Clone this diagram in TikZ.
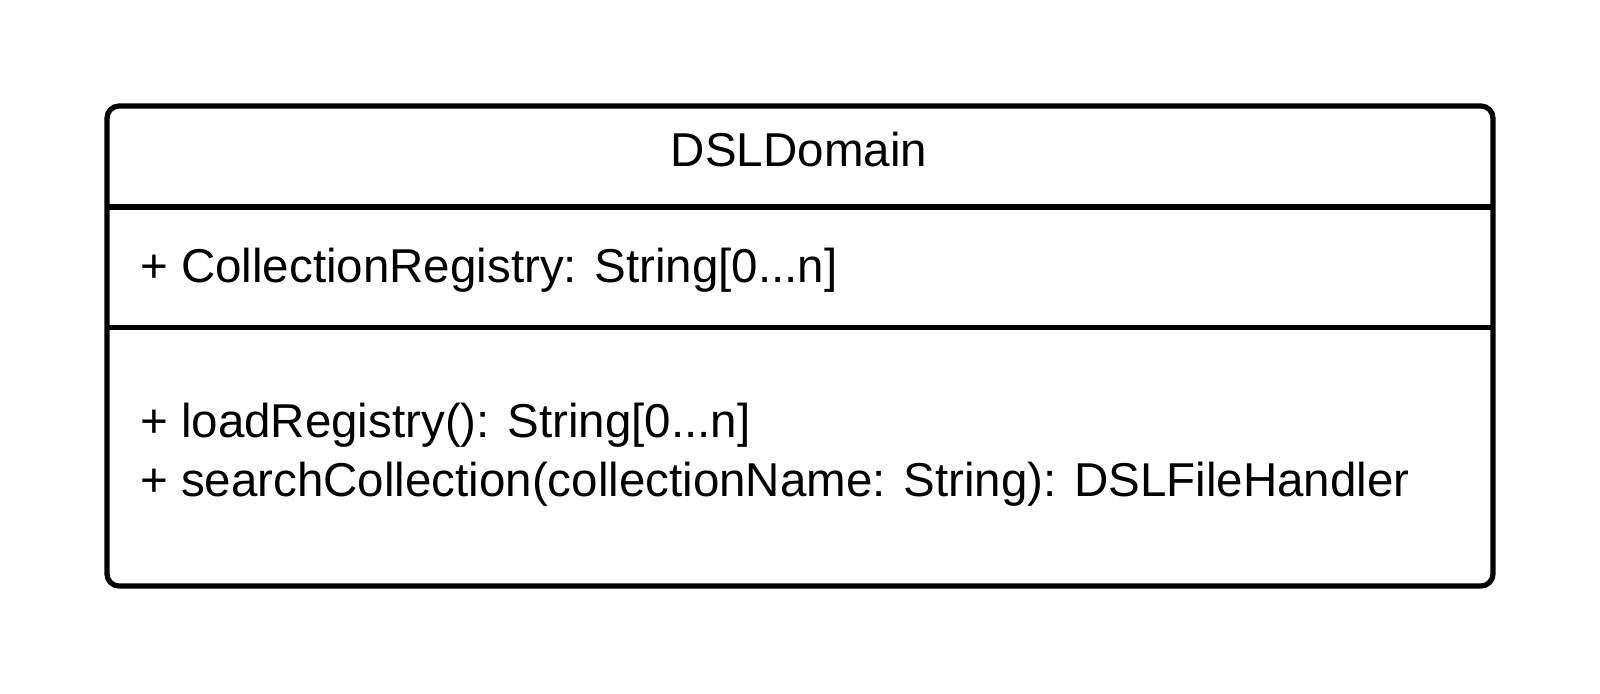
\documentclass[tikz,border=0pt]{standalone}
\usepackage{fontspec}
\setmainfont{Liberation Sans}
\begin{document}
\begin{tikzpicture}[x=1pt,y=-1pt,
  umltext/.style={font=\fontsize{47.5}{56}\selectfont, inner sep=0pt, anchor=base west},
  boxline/.style={line width=5.2pt}]
\useasboundingbox (0,0) rectangle (1600,693);
\fill[white] (0,0) rectangle (1600,693);
\draw[boxline, rounded corners=12pt] (107,106) rectangle (1493,586);
\coordinate (d1l) at (107,207);
\coordinate (d1r) at (1493,207);
\coordinate (d2l) at (107,327.5);
\coordinate (d2r) at (1493,327.5);
\draw[boxline] (d1l) -- (d1r);
\draw[boxline] (d2l) -- (d2r);
\node[umltext, anchor=base] (title) at (799,166) {DSLDomain};
\node[umltext] (attr) at (140,282) {+ CollectionRegistry: String[0...n]};
\node[umltext] (m1) at (140,437) {+ loadRegistry(): String[0...n]};
\node[umltext] (m2) at (140,496) {+ searchCollection(collectionName: String): DSLFileHandler};
\end{tikzpicture}
\end{document}
